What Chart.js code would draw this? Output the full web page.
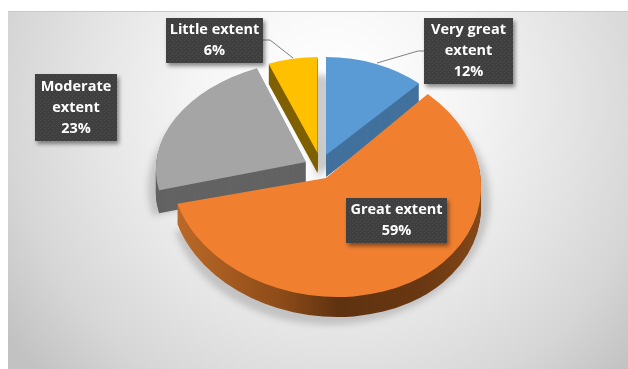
<!DOCTYPE html>
<html>
<head>
<meta charset="utf-8">
<title>Extent</title>
<script src="https://cdn.jsdelivr.net/npm/chart.js@4"></script>
<style>
  html, body { margin: 0; padding: 0; background: #fff; }
  canvas { display: block; }
</style>
</head>
<body>
<canvas id="chart" width="628" height="369"></canvas>
<script>
const categories = [['Very great', 'extent'], ['Great extent'], ['Moderate', 'extent'], ['Little extent']]
const shares = [12, 59, 23, 6]
const topColors = ['#5b9bd5', '#f08030', '#a5a5a5', '#ffc000']
const sideColors = ['#41719c', null, '#636363', '#7f6000']

// each exploded wedge: apex on screen, flattened radii, shear for the tilt
const wedgeFrames = [
  { x: 326, y: 155, rx: 136, ry: 98, skewX: 0, skewY: 0, depth: 22 },
  { x: 326, y: 178, rx: 155, ry: 119, skewX: -6, skewY: 4, depth: 20 },
  { x: 306, y: 162, rx: 150, ry: 102, skewX: 6.6, skewY: -3, depth: 23 },
  { x: 317.5, y: 153, rx: 133, ry: 96, skewX: 0, skewY: 0, depth: 20 },
]
const shadowFrames = [
  { x: 316, y: 177, rx: 146, ry: 102 },
  { x: 330, y: 200, rx: 160, ry: 125 },
  { x: 298, y: 188, rx: 150, ry: 112 },
  { x: 318, y: 170, rx: 120, ry: 95 },
]
const paintOrder = [3, 2, 0, 1]

const labelBoxes = [
  { x: 424, y: 18, w: 89, h: 66 },
  { x: 346, y: 198, w: 101, h: 45 },
  { x: 35, y: 74, w: 82, h: 67 },
  { x: 166, y: 18, w: 97, h: 45 },
]
const leaders = [
  [[424, 51], [418, 51], [377, 63]],
  null,
  null,
  [[263, 40], [270, 40], [293, 58]],
]

function paintArc(ctx, arc, frame, color, dy) {
  const r = arc.outerRadius
  const saved = arc.options
  arc.options = Object.assign({}, saved, { backgroundColor: color, borderWidth: 0 })
  ctx.save()
  ctx.transform(frame.rx / r, (frame.skewY || 0) / r, -(frame.skewX || 0) / r, frame.ry / r, frame.x, frame.y + dy)
  ctx.translate(-arc.x, -arc.y)
  arc.draw(ctx)
  ctx.restore()
  arc.options = saved
}

function orangeSide(ctx, arc) {
  const r = arc.outerRadius
  const g = ctx.createLinearGradient(arc.x - r, 0, arc.x + r, 0)
  g.addColorStop(0, '#bd6a28')
  g.addColorStop(0.35, '#8a4a18')
  g.addColorStop(0.52, '#5f3210')
  g.addColorStop(0.8, '#6a3812')
  g.addColorStop(1, '#85481a')
  return g
}

const pie3d = {
  id: 'pie3d',
  beforeDraw(chart) {
    const ctx = chart.ctx
    ctx.save()
    const bg = ctx.createRadialGradient(330, 100, 20, 330, 100, 400)
    bg.addColorStop(0, '#ffffff')
    bg.addColorStop(0.3, '#f5f5f5')
    bg.addColorStop(0.6, '#e3e3e3')
    bg.addColorStop(0.8, '#d6d6d6')
    bg.addColorStop(1, '#c2c2c2')
    ctx.fillStyle = bg
    ctx.fillRect(8, 11, 620, 358)
    ctx.fillStyle = '#c8c8c8'
    ctx.fillRect(8, 11, 620, 1)
    ctx.restore()
  },
  beforeDatasetsDraw(chart) {
    const ctx = chart.ctx
    const arcs = chart.getDatasetMeta(0).data

    // soft ground shadow under the whole pie
    ctx.save()
    ctx.filter = 'blur(3px)'
    paintOrder.forEach((i) => paintArc(ctx, arcs[i], shadowFrames[i], 'rgba(170,170,170,0.6)', 0))
    ctx.restore()

    paintOrder.forEach((i) => {
      const f = wedgeFrames[i]
      const side = sideColors[i] || orangeSide(ctx, arcs[i])
      for (let d = f.depth; d > 0; d--) paintArc(ctx, arcs[i], f, side, d)
      paintArc(ctx, arcs[i], f, topColors[i], 0)
    })
    return false
  },
  afterDraw(chart) {
    const ctx = chart.ctx
    const tile = document.createElement('canvas')
    tile.width = 4
    tile.height = 4
    const t = tile.getContext('2d')
    t.fillStyle = '#3f3f3f'
    t.fillRect(0, 0, 4, 4)
    t.fillStyle = '#4d4d4d'
    t.fillRect(0, 0, 1, 1)
    t.fillRect(2, 2, 1, 1)
    const dots = ctx.createPattern(tile, 'repeat')

    leaders.forEach((pts) => {
      if (!pts) return
      ctx.beginPath()
      pts.forEach((p, k) => (k ? ctx.lineTo(p[0], p[1]) : ctx.moveTo(p[0], p[1])))
      ctx.strokeStyle = '#7f7f7f'
      ctx.lineWidth = 1
      ctx.stroke()
    })

    labelBoxes.forEach((b, i) => {
      ctx.save()
      ctx.shadowColor = 'rgba(0,0,0,0.45)'
      ctx.shadowBlur = 4
      ctx.shadowOffsetX = 2
      ctx.shadowOffsetY = 3
      ctx.fillStyle = dots
      ctx.fillRect(b.x, b.y, b.w, b.h)
      ctx.restore()

      const lines = categories[i].concat(shares[i] + '%')
      ctx.fillStyle = '#ffffff'
      ctx.font = 'bold 14.5px "Open Sans"'
      ctx.textAlign = 'center'
      ctx.textBaseline = 'middle'
      const top = b.y + b.h / 2 - (lines.length - 1) * 10.5
      lines.forEach((s, k) => ctx.fillText(s, b.x + b.w / 2, top + k * 21))
    })
  },
}

new Chart(document.getElementById('chart'), {
  type: 'pie',
  data: {
    labels: categories,
    datasets: [{ data: shares, backgroundColor: topColors, borderWidth: 0 }],
  },
  options: {
    responsive: false,
    animation: false,
    rotation: 0,
    plugins: { legend: { display: false }, tooltip: { enabled: false } },
  },
  plugins: [pie3d],
})
</script>
</body>
</html>
